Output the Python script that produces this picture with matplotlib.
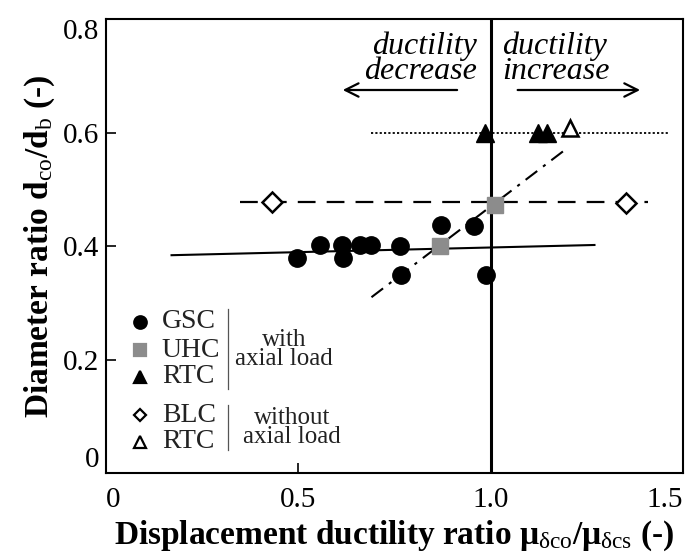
import matplotlib
matplotlib.use("Agg")
import matplotlib.pyplot as plt

plt.rcParams['font.family'] = ['Liberation Serif', 'DejaVu Serif']
plt.rcParams['mathtext.fontset'] = 'custom'
plt.rcParams['mathtext.rm'] = 'Liberation Serif'
plt.rcParams['mathtext.it'] = 'Liberation Serif:italic'
plt.rcParams['mathtext.bf'] = 'Liberation Serif:bold'

# GSC (with axial load)
gsc_x = [0.496, 0.556, 0.613, 0.615, 0.66, 0.69, 0.764, 0.766, 0.872, 0.957, 0.988]
gsc_y = [0.379, 0.402, 0.402, 0.379, 0.402, 0.402, 0.400, 0.350, 0.437, 0.435, 0.350]
# UHC (with axial load)
uhc_x = [0.868, 1.01]
uhc_y = [0.400, 0.472]
# RTC (with axial load)
rtc_x = [0.985, 1.123, 1.146]
rtc_y = [0.600, 0.600, 0.600]
# BLC (without axial load)
blc_x = [0.43, 1.351]
blc_y = [0.478, 0.476]
# RTC (without axial load)
rtc0_x = [1.206]
rtc0_y = [0.608]

# trend lines
gsc_fit_x = [0.17, 1.27]
gsc_fit_y = [0.384, 0.402]
uhc_fit_x = [0.69, 1.20]
uhc_fit_y = [0.31, 0.573]
blc_fit_x = [0.348, 1.41]
blc_fit_y = [0.477, 0.477]
rtc_fit_x = [0.69, 1.46]
rtc_fit_y = [0.60, 0.60]

fig = plt.figure(figsize=(6.94, 5.6), dpi=100)
ax = fig.add_axes([0.153, 0.155, 0.831, 0.811])

ax.axvline(1.0, color='black', lw=2.2, zorder=1)
ax.plot(gsc_fit_x, gsc_fit_y, '-', color='black', lw=1.5, zorder=2)
ax.plot(uhc_fit_x, uhc_fit_y, color='black', lw=1.5, dashes=[7, 3.5, 1.5, 3.5], zorder=2)
ax.plot(blc_fit_x, blc_fit_y, color='black', lw=1.6, dashes=[8, 5], zorder=2)
ax.plot(rtc_fit_x, rtc_fit_y, color='black', lw=1.3, dashes=[1.2, 1.2], zorder=2)

ax.plot(gsc_x, gsc_y, 'o', color='black', ms=12.5, zorder=3)
ax.plot(uhc_x, uhc_y, 's', color='#8c8c8c', ms=11, zorder=4)
ax.plot(rtc_x, rtc_y, '^', color='black', ms=13, zorder=3)
ax.plot(blc_x, blc_y, 'D', mfc='white', mec='black', mew=1.8, ms=10, zorder=3)
ax.plot(rtc0_x, rtc0_y, '^', mfc='white', mec='black', mew=1.8, ms=12, zorder=3)

# annotations
ax.text(0.963, 0.730, 'ductility\ndecrease', style='italic', fontsize=23,
        ha='right', va='center', linespacing=0.85)
ax.text(1.030, 0.730, 'ductility\nincrease', style='italic', fontsize=23,
        ha='left', va='center', linespacing=0.85)
ax.annotate('', xy=(0.608, 0.675), xytext=(0.92, 0.675),
            arrowprops=dict(arrowstyle='->', lw=1.6, mutation_scale=24))
ax.annotate('', xy=(1.396, 0.675), xytext=(1.063, 0.675),
            arrowprops=dict(arrowstyle='->', lw=1.6, mutation_scale=24))

# hand-made legend
leg_items = [
    ('o', 'black', 'black', 'GSC', 0.267),
    ('s', '#8c8c8c', '#8c8c8c', 'UHC', 0.217),
    ('^', 'black', 'black', 'RTC', 0.170),
    ('D', 'white', 'black', 'BLC', 0.102),
    ('^', 'white', 'black', 'RTC', 0.055),
]
for mk, fc, ec, lab, yy in leg_items:
    ms = 6 if mk == 'D' else 9
    ax.plot([0.088], [yy], mk, mfc=fc, mec=ec, mew=1.6, ms=ms, zorder=5)
    ax.text(0.145, yy, lab, fontsize=20, ha='left', va='center', color='#222222')
ax.plot([0.318, 0.318], [0.148, 0.290], color='#555555', lw=0.9)
ax.plot([0.318, 0.318], [0.040, 0.120], color='#555555', lw=0.9)
ax.text(0.462, 0.218, 'with\naxial load', fontsize=18, ha='center', va='center',
        linespacing=0.8, color='#222222')
ax.text(0.483, 0.081, 'without\naxial load', fontsize=18, ha='center', va='center',
        linespacing=0.8, color='#222222')

ax.set_xlim(0, 1.5)
ax.set_ylim(0, 0.8)
ax.set_xticks([0, 0.5, 1.0, 1.5])
ax.set_xticklabels(['0', '0.5', '1.0', '1.5'])
ax.set_yticks([0, 0.2, 0.4, 0.6, 0.8])
ax.set_yticklabels(['0', '0.2', '0.4', '0.6', '0.8'])
ax.tick_params(direction='in', length=7, width=1.2, labelsize=21)
ax.tick_params(axis='x', pad=10)
ax.tick_params(axis='y', pad=5)
xl = ax.get_xticklabels()
xl[0].set_ha('left')
xl[-1].set_ha('right')
yl = ax.get_yticklabels()
yl[0].set_va('bottom')
yl[-1].set_va('top')
for s in ax.spines.values():
    s.set_linewidth(1.5)

ax.set_xlabel(r'Displacement ductility ratio $\mathbf{μ}_{\mathrm{δco}}\mathbf{/μ}_{\mathrm{δcs}}$ (-)',
              fontsize=24, fontweight='bold', labelpad=4)
ax.set_ylabel(r'Diameter ratio $\mathbf{d}_{\mathrm{co}}\mathbf{/d}_{\mathrm{b}}$ (-)',
              fontsize=24, fontweight='bold', labelpad=4)

fig.savefig('out.png', dpi=100)
